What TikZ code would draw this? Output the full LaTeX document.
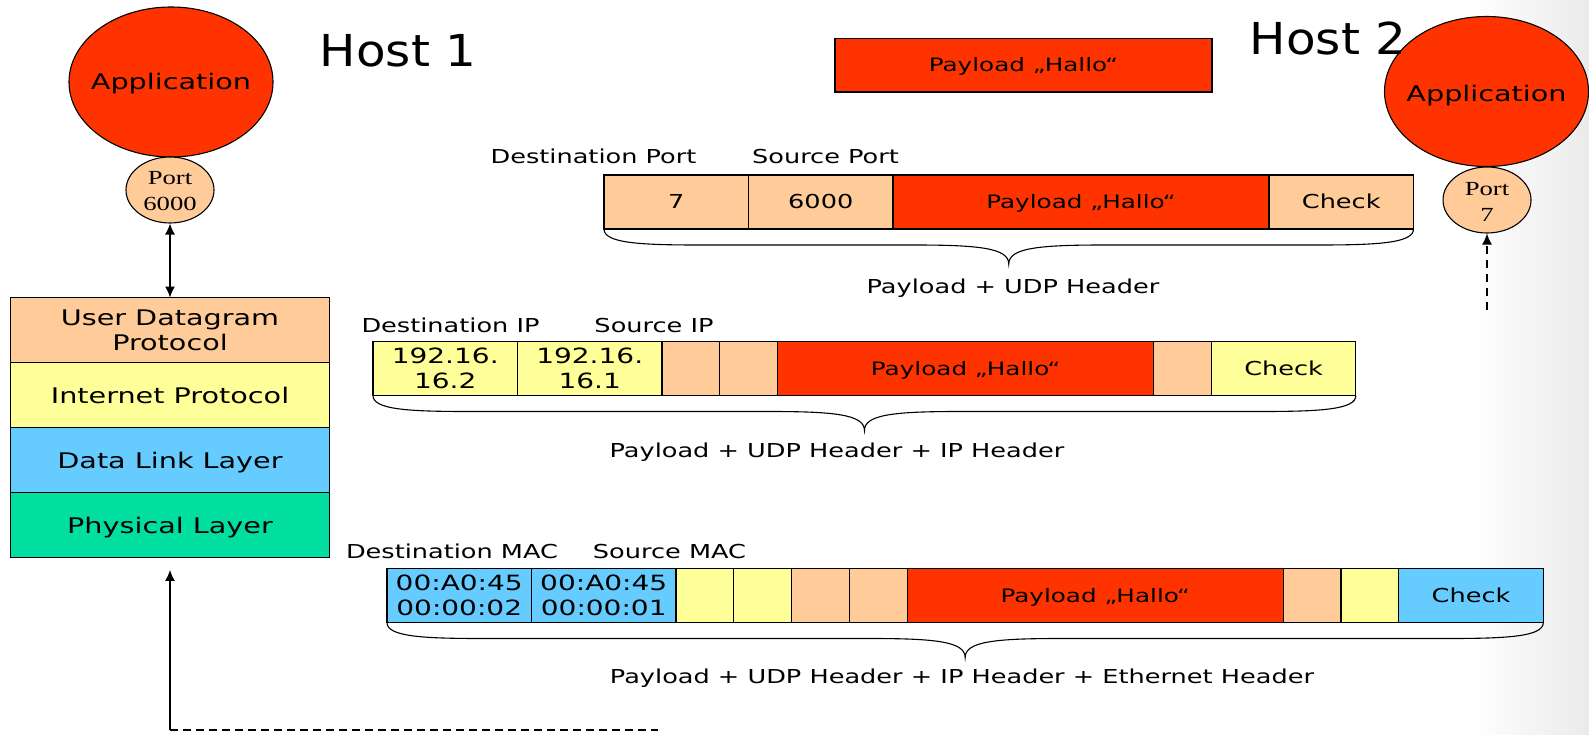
\documentclass[tikz,border=0pt]{standalone}
\usepackage{fontspec}
\setmainfont{DejaVu Sans}[FakeStretch=1.333]
\newfontfamily\hostfont{DejaVu Sans}[FakeStretch=1.1]
\newfontfamily\portfont{Liberation Serif}[FakeStretch=1.333]
\usetikzlibrary{shapes.geometric,arrows.meta}
\definecolor{pred}{HTML}{FF3300}
\definecolor{ppeach}{HTML}{FFCC99}
\definecolor{pyellow}{HTML}{FFFF99}
\definecolor{pblue}{HTML}{66CCFF}
\definecolor{pgreen}{HTML}{00DFA0}
\newcommand\pbrace[3]{%
  \pgfmathsetmacro\bcx{(#1+#2)/2}
  \draw[bracestyle] (#1,#3) .. controls (#1,#3+14) and (#1+35,#3+16) .. (#1+95,#3+16)
    -- (\bcx-95,#3+16) .. controls (\bcx-30,#3+16) and (\bcx,#3+19) .. (\bcx,#3+35)
    .. controls (\bcx,#3+19) and (\bcx+30,#3+16) .. (\bcx+95,#3+16)
    -- (#2-95,#3+16) .. controls (#2-35,#3+16) and (#2,#3+14) .. (#2,#3);}
\begin{document}
\begin{tikzpicture}[x=1pt,y=-1pt,
  lbl/.style={font=\fontsize{19.2}{23}\selectfont, inner sep=0pt, anchor=base},
  cell/.style={draw, line width=1.1pt, minimum height=54pt, inner sep=0pt, outer sep=0pt,
    anchor=north west, font=\fontsize{19.2}{23}\selectfont, text height=14pt, text depth=0pt},
  bigcell/.style={cell, minimum width=144.5pt},
  smallcell/.style={cell, minimum width=57.8pt},
  paycell/.style={cell, minimum width=376pt, fill=pred, font=\fontsize{18.5}{23}\selectfont, text height=13.5pt},
  twoline/.style={draw, line width=1.1pt, minimum height=54pt, minimum width=144.5pt, inner sep=0pt,
    outer sep=0pt, anchor=north west, align=center, font=\fontsize{21}{25}\selectfont},
  layer/.style={draw, line width=1.1pt, minimum width=319pt, minimum height=65.1pt, inner sep=0pt,
    outer sep=0pt, anchor=north west, font=\fontsize{21.5}{25}\selectfont, text height=15.7pt, text depth=0pt},
  app/.style={ellipse, draw, line width=1.1pt, fill=pred, minimum width=204pt, minimum height=150pt,
    inner sep=0pt},
  apptext/.style={inner sep=0pt, font=\fontsize{21.5}{25}\selectfont, text height=15.7pt, text depth=0pt},
  port/.style={ellipse, draw, line width=1.1pt, fill=ppeach, minimum width=88pt, minimum height=66pt,
    inner sep=0pt},
  porttext/.style={inner sep=0pt, align=center, font=\portfont\fontsize{20}{26}\selectfont},
  bracestyle/.style={line width=1.1pt},
  tipped/.style={-{Latex[length=11pt,width=10pt]}},
  conn/.style={line width=1.3pt},
]
\useasboundingbox (0,0) rectangle (1589,735);
\shade[left color=white, right color=black!8] (1470,0) rectangle (1589,735);

% Host 1
\node[app] (app1) at (171,82) {};
\node[apptext] (app1t) at (app1.center) {Application};
\node[port] (p1) at (170,190) {};
\node[porttext] (p1t) at (170,191) {Port\\6000};
\node[inner sep=0pt, anchor=base, font=\hostfont\fontsize{44}{50}\selectfont] (h1) at (398,67) {Host 1};

% protocol stack
\node[layer, fill=ppeach, align=center, text height=, text depth=] (udp) at (10.5,297.5) {User Datagram\\Protocol};
\node[layer, fill=pyellow] (ip) at (10.5,362.6) {Internet Protocol};
\node[layer, fill=pblue] (dl) at (10.5,427.7) {Data Link Layer};
\node[layer, fill=pgreen] (phys) at (10.5,492.8) {Physical Layer};

\draw[conn, {Latex[length=11pt,width=10pt]}-{Latex[length=11pt,width=10pt]}] (p1.south) -- (udp.north);
\coordinate (corner) at (170,730);
\coordinate (dend) at (658,730);
\draw[conn, tipped] (corner) -- ([yshift=-12pt]phys.south);
\draw[conn, dash pattern=on 8pt off 5pt] (corner) -- (dend);

% Host 2
\node[app] (app2) at (1486.5,91.5) {};
\node[apptext] (app2t) at (1486.5,94) {Application};
\node[port] (p2) at (1487,200) {};
\node[porttext] (p2t) at (1487,202) {Port\\7};
\node[inner sep=0pt, anchor=base, font=\hostfont\fontsize{44}{50}\selectfont] (h2) at (1328,55) {Host 2};
\coordinate (p2from) at (1487,310);
\draw[conn, tipped, dash pattern=on 8pt off 6pt] (p2from) -- (p2.south);

% top payload
\node[draw, fill=pred, line width=1.1pt, minimum width=377pt, minimum height=53.5pt, inner sep=0pt,
  font=\fontsize{18.5}{23}\selectfont, text height=13.5pt, text depth=0pt] (pl) at (1023.5,65.25) {Payload „Hallo“};

% UDP row
\node[lbl] (ldport) at (593.5,164) {Destination Port};
\node[lbl] (lsport) at (825.5,164) {Source Port};
\node[bigcell, fill=ppeach] (u1) at (604,175) {7};
\node[bigcell, fill=ppeach] (u2) at (748.5,175) {6000};
\node[paycell] (u3) at (893,175) {Payload „Hallo“};
\node[bigcell, fill=ppeach] (u4) at (1269,175) {Check};
\pbrace{604}{1413.5}{229}
\node[lbl] (bu) at (1013,293) {Payload + UDP Header};

% IP row
\node[lbl] (ldip) at (450.5,332) {Destination IP};
\node[lbl] (lsip) at (654,332) {Source IP};
\node[twoline, fill=pyellow] (i1) at (373,341.5) {192.16.\\16.2};
\node[twoline, fill=pyellow] (i2) at (517.5,341.5) {192.16.\\16.1};
\node[smallcell, fill=ppeach] (i3) at (662,341.5) {};
\node[smallcell, fill=ppeach] (i4) at (719.8,341.5) {};
\node[paycell] (i5) at (777.6,341.5) {Payload „Hallo“};
\node[smallcell, fill=ppeach] (i6) at (1153.6,341.5) {};
\node[bigcell, fill=pyellow] (i7) at (1211.4,341.5) {Check};
\pbrace{373}{1355.9}{395.5}
\node[lbl] (bi) at (837,457) {Payload + UDP Header + IP Header};

% Ethernet row
\node[lbl] (ldmac) at (452,558) {Destination MAC};
\node[lbl] (lsmac) at (669.5,558) {Source MAC};
\node[twoline, fill=pblue] (e1) at (387,568.5) {00:A0:45\\00:00:02};
\node[twoline, fill=pblue] (e2) at (531.5,568.5) {00:A0:45\\00:00:01};
\node[smallcell, fill=pyellow] (e3) at (676,568.5) {};
\node[smallcell, fill=pyellow] (e4) at (733.8,568.5) {};
\node[smallcell, fill=ppeach] (e5) at (791.6,568.5) {};
\node[smallcell, fill=ppeach] (e6) at (849.4,568.5) {};
\node[paycell] (e7) at (907.2,568.5) {Payload „Hallo“};
\node[smallcell, fill=ppeach] (e8) at (1283.2,568.5) {};
\node[smallcell, fill=pyellow] (e9) at (1341,568.5) {};
\node[bigcell, fill=pblue] (e10) at (1398.8,568.5) {Check};
\pbrace{387}{1543.3}{622.5}
\node[lbl] (be) at (962,683) {Payload + UDP Header + IP Header + Ethernet Header};
\end{tikzpicture}
\end{document}
